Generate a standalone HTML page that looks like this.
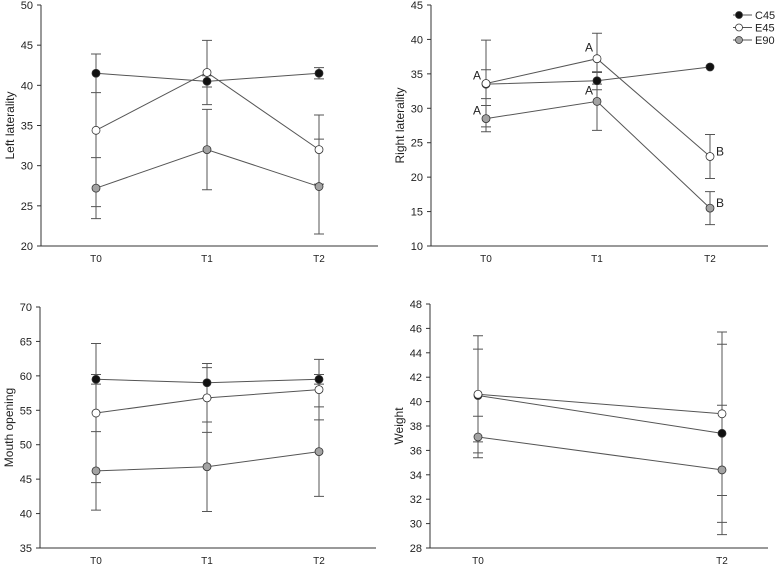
<!DOCTYPE html>
<html><head><meta charset="utf-8"><style>
body{margin:0;background:#fff}
svg{display:block;font-family:"Liberation Sans",Arial,sans-serif}
</style></head><body>
<svg id="chart" width="777" height="566" viewBox="0 0 777 566"></svg>
<script>
const seriesNames=["C45","E45","E90"];
const seriesFill=["#111","#fff","#a3a3a3"];
// Panel 1: Left laterality
const p1Cats=["T0","T1","T2"];
const p1C45=[41.5,40.5,41.5], p1C45e=[2.4,0.7,0.7];
const p1E45=[34.4,41.6,32], p1E45e=[9.5,4,4.3];
const p1E90=[27.2,32,27.4], p1E90e=[3.8,5,5.9];
const p1Ticks=[20,25,30,35,40,45,50];
// Panel 2: Right laterality
const p2Cats=["T0","T1","T2"];
const p2C45=[33.5,34,36], p2C45e=[2.1,1.3,0];
const p2E45=[33.6,37.2,23], p2E45e=[6.3,3.7,3.2];
const p2E90=[28.5,31,15.5], p2E90e=[1.9,4.2,2.4];
const p2Ticks=[10,15,20,25,30,35,40,45];
const p2E45Labels=["A","A","B"], p2E90Labels=["A","A","B"];
// Panel 3: Mouth opening
const p3Cats=["T0","T1","T2"];
const p3C45=[59.5,59,59.5], p3C45e=[0.7,2.2,0.7];
const p3E45=[54.6,56.8,58], p3E45e=[10.1,5,4.4];
const p3E90=[46.2,46.8,49], p3E90e=[5.7,6.5,6.5];
const p3Ticks=[35,40,45,50,55,60,65,70];
// Panel 4: Weight
const p4Cats=["T0","T2"];
const p4C45=[40.5,37.4], p4C45e=[3.8,7.3];
const p4E45=[40.6,39], p4E45e=[4.8,6.7];
const p4E90=[37.1,34.4], p4E90e=[1.7,5.3];
const p4Ticks=[28,30,32,34,36,38,40,42,44,46,48];

const NS="http://www.w3.org/2000/svg";
const svg=document.getElementById("chart");
function mk(tag,attrs,parent){const e=document.createElementNS(NS,tag);for(const k in attrs)e.setAttribute(k,attrs[k]);(parent||svg).appendChild(e);return e;}

function panel(id,title,cats,xs,ticks,series,errs,ax){
  const g=mk("g",{});
  
  
  const yMin=ticks[0],yMax=ticks[ticks.length-1];
  const y=v=>ax.bottom-(v-yMin)/(yMax-yMin)*(ax.bottom-ax.top);
  const x=i=>xs[i];
  const axes=mk("path",{d:`M${ax.left},${ax.top}V${ax.bottom}H${ax.right}`,stroke:"#333","stroke-width":1,fill:"none"},g);
  
  
  ticks.forEach(t=>{
    mk("line",{x1:ax.left-4,x2:ax.left,y1:y(t),y2:y(t),stroke:"#333"},g);
    const tl=mk("text",{x:ax.left-8,y:y(t)+4,"text-anchor":"end","font-size":11,fill:"#222"},g);
    tl.textContent=t;
    
    
  });
  cats.forEach((c,i)=>{
    const tl=mk("text",{x:x(i),y:ax.bottom+16,"text-anchor":"middle","font-size":10,fill:"#222"},g);
    tl.textContent=c;
    
    
  });
  const yt=mk("text",{x:0,y:0,"text-anchor":"middle","font-size":12,fill:"#222",transform:`translate(${ax.left-27},${(ax.top+ax.bottom)/2}) rotate(-90)`},g);
  yt.textContent=title;
  
  
  series.forEach((s,si)=>{
    s.forEach((v,i)=>{
      const e=errs[si][i]; if(!e) return;
      const cx=x(i);
      mk("path",{d:`M${cx},${y(v+e)}V${y(v-e)}M${cx-5},${y(v+e)}H${cx+5}M${cx-5},${y(v-e)}H${cx+5}`,stroke:"#555","stroke-width":1,fill:"none"},g);
    });
  });
  series.forEach((s,si)=>{
    const ln=mk("polyline",{points:s.map((v,i)=>x(i)+","+y(v)).join(" "),stroke:"#555","stroke-width":1,fill:"none"},g);
    
    
  });
  series.forEach((s,si)=>{
    s.forEach((v,i)=>{
      const c=mk("circle",{cx:x(i),cy:y(v),r:4,fill:seriesFill[si],stroke:"#333","stroke-width":0.8},g);
      
      
    });
  });
  return {x,y,g};
}

panel("left-laterality","Left laterality",p1Cats,[96,207,319],p1Ticks,[p1C45,p1E45,p1E90],[p1C45e,p1E45e,p1E90e],{left:41,right:378,top:5,bottom:246});
const P2=panel("right-laterality","Right laterality",p2Cats,[486,597,710],p2Ticks,[p2C45,p2E45,p2E90],[p2C45e,p2E45e,p2E90e],{left:431,right:768,top:5,bottom:246});
panel("mouth-opening","Mouth opening",p3Cats,[96,207,319],p3Ticks,[p3C45,p3E45,p3E90],[p3C45e,p3E45e,p3E90e],{left:40,right:376,top:307,bottom:548});
panel("weight","Weight",p4Cats,[478,722],p4Ticks,[p4C45,p4E45,p4E90],[p4C45e,p4E45e,p4E90e],{left:430,right:768,top:304,bottom:548});

function letter(t,xx,yy){const e=mk("text",{x:xx,y:yy,"font-size":12,fill:"#222","text-anchor":"middle"});e.textContent=t;
  
  }
[[p2E45,p2E45Labels],[p2E90,p2E90Labels]].forEach(([vals,labs])=>{
  vals.forEach((v,i)=>{
    const px=P2.x(i),py=P2.y(v);
    if(i===0) letter(labs[i],px-9,py-4);
    else if(i===1) letter(labs[i],px-8,py-7);
    else letter(labs[i],px+10,py-1);
  });
});

const lg=mk("g",{});


seriesNames.forEach((n,i)=>{
  const yy=15+i*12.5;
  const it=mk("g",{},lg);
  
  
  mk("line",{x1:733,x2:752,y1:yy,y2:yy,stroke:"#555"},it);
  mk("circle",{cx:739,cy:yy,r:3.5,fill:seriesFill[i],stroke:"#333","stroke-width":0.8},it);
  const t=mk("text",{x:755,y:yy+4,"font-size":11,fill:"#222"},it);t.textContent=n;
});
</script>
</body></html>
